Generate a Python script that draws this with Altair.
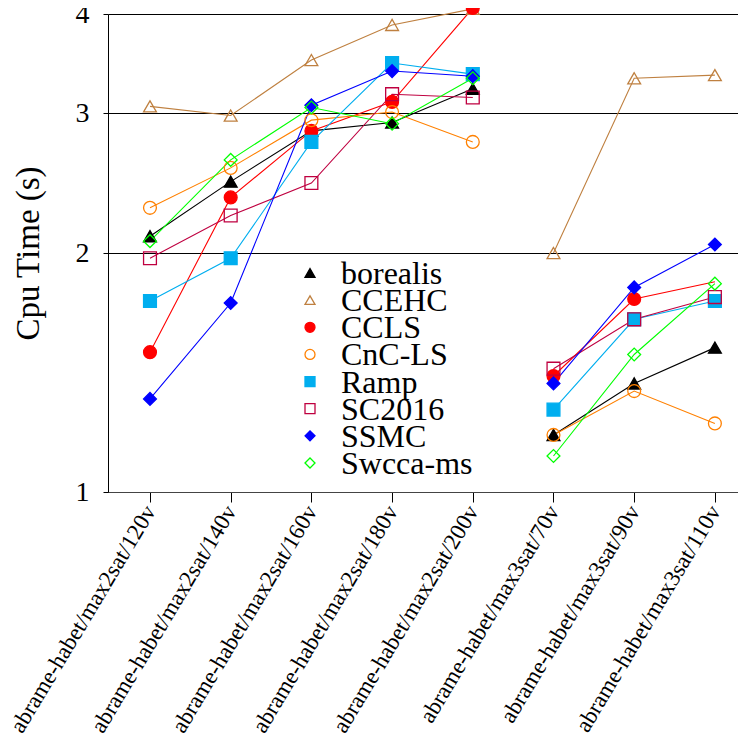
import altair as alt
import pandas as pd

categories = [
    "abrame-habet/max2sat/120v",
    "abrame-habet/max2sat/140v",
    "abrame-habet/max2sat/160v",
    "abrame-habet/max2sat/180v",
    "abrame-habet/max2sat/200v",
    "abrame-habet/max3sat/70v",
    "abrame-habet/max3sat/90v",
    "abrame-habet/max3sat/110v",
]

series_names = ["borealis", "CCEHC", "CCLS", "CnC-LS", "Ramp", "SC2016", "SSMC", "Swcca-ms"]

borealis = [2.10, 2.46, 2.85, 2.92, 3.22, 1.18, 1.37, 1.52]
ccehc = [3.06, 2.98, 3.50, 3.875, 4.06, 2.00, 3.32, 3.35]
ccls = [1.50, 2.35, 2.85, 3.10, 4.07, 1.40, 1.75, 1.84]
cnc_ls = [2.28, 2.56, 2.94, 3.01, 2.76, 1.18, 1.34, 1.22]
ramp = [1.74, 1.97, 2.76, 3.47, 3.36, 1.27, 1.65, 1.74]
sc2016 = [1.97, 2.23, 2.45, 3.17, 3.14, 1.43, 1.65, 1.76]
ssmc = [1.31, 1.73, 3.07, 3.39, 3.34, 1.37, 1.81, 2.05]
swcca_ms = [2.07, 2.62, 3.05, 2.91, 3.32, 1.11, 1.49, 1.83]

all_values = [borealis, ccehc, ccls, cnc_ls, ramp, sc2016, ssmc, swcca_ms]

colors = ["#000000", "#BF8040", "#FF0000", "#FF8000", "#00AEEF", "#BF0040", "#0000FF", "#00FF00"]
fills = ["#000000", "transparent", "#FF0000", "transparent", "#00AEEF", "transparent", "#0000FF", "transparent"]
shapes = ["triangle-up", "triangle-up", "circle", "circle", "square", "square", "diamond", "diamond"]

rows = []
for s, vals in zip(series_names, all_values):
    for c, v in zip(categories, vals):
        rows.append({
            "series": s,
            "cat": c,
            "group": c.split("/")[1],
            "value": v,
            "marker": not (s == "CCLS" and c.endswith("/110v")),
        })
df = pd.DataFrame(rows)
legend_df = pd.DataFrame({"series": series_names})

FONT = "'Liberation Serif', 'DejaVu Serif', serif"

x_enc = alt.X(
    "cat:N",
    sort=categories,
    scale=alt.Scale(type="point", padding=0.4033, align=0.645),
    axis=alt.Axis(
        title=None,
        labelAngle=-59,
        labelAlign="right",
        labelBaseline="middle",
        labelFont=FONT,
        labelFontSize=23,
        labelColor="#000000",
        labelPadding=5,
        labelLimit=400,
        tickSize=10,
        tickColor="#000000",
        domainColor="#444444",
        domainWidth=1.2,
        grid=False,
    ),
)

y_enc = alt.Y(
    "value:Q",
    scale=alt.Scale(type="log", domain=[1, 4], nice=False),
    axis=alt.Axis(
        title="Cpu Time (s)",
        titleFont=FONT,
        titleFontSize=33,
        titleFontWeight="normal",
        titleColor="#000000",
        titlePadding=30,
        values=[1, 2, 3, 4],
        format="d",
        labelFont=FONT,
        labelFontSize=28,
        labelColor="#000000",
        labelPadding=14,
        tickSize=5,
        tickColor="#000000",
        domainColor="#000000",
        grid=True,
        gridColor="#000000",
        gridWidth=1,
        gridOpacity=1,
    ),
)

stroke_scale = alt.Scale(domain=series_names, range=colors)
fill_scale = alt.Scale(domain=series_names, range=fills)
shape_scale = alt.Scale(domain=series_names, range=shapes)

stroke_enc = alt.Stroke("series:N", scale=stroke_scale, sort=series_names, legend=None)
fill_enc = alt.Fill("series:N", scale=fill_scale, sort=series_names, legend=None)
shape_enc = alt.Shape("series:N", scale=shape_scale, sort=series_names, legend=None)

lines = alt.Chart(df).mark_line(strokeWidth=1.1).encode(
    x=x_enc,
    y=y_enc,
    stroke=stroke_enc,
    detail="group:N",
    order=alt.Order("cat_idx:Q"),
).transform_calculate(
    cat_idx="indexof(" + str(categories) + ", datum.cat)"
)

points = alt.Chart(df).mark_point(size=165, strokeWidth=1.3, opacity=1).encode(
    x=x_enc,
    y=y_enc,
    stroke=stroke_enc,
    fill=fill_enc,
    shape=shape_enc,
).transform_filter("datum.marker")

main = alt.layer(lines, points)

# in-plot legend built from the series list
leg_y = alt.Y("series:N", sort=series_names,
              scale=alt.Scale(type="point", padding=0, range=[259, 449]), axis=None)

leg_sym = alt.Chart(legend_df).mark_point(size=100, strokeWidth=1.3, opacity=1).encode(
    x=alt.value(202),
    y=leg_y,
    stroke=stroke_enc,
    fill=fill_enc,
    shape=shape_enc,
)
leg_txt = alt.Chart(legend_df).mark_text(
    align="left", baseline="middle", font=FONT, fontSize=32, color="#000000", dy=1
).encode(
    x=alt.value(233),
    y=leg_y,
    text="series:N",
)
legend = alt.layer(leg_sym, leg_txt)

chart = alt.layer(main, legend).resolve_scale(y="independent").properties(
    width=630,
    height=478,
    autosize=alt.AutoSizeParams(type="none"),
    padding={"left": 100, "top": 6, "right": 0, "bottom": 254},
).configure_view(stroke=None)

chart.save("out.html", embed_options={"renderer": "svg", "actions": False})
